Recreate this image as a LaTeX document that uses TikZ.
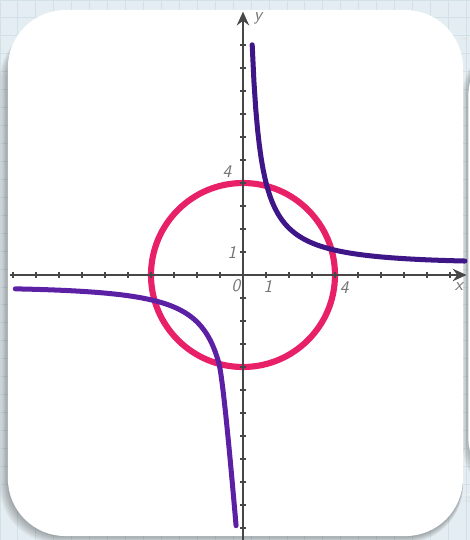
\documentclass[tikz,border=0pt]{standalone}
\usetikzlibrary{arrows.meta}
\definecolor{ringpink}{RGB}{232,32,104}
\definecolor{hypup}{RGB}{62,22,135}
\definecolor{hyplow}{RGB}{92,32,165}
\definecolor{paper}{RGB}{228,237,241}
\definecolor{paperline}{RGB}{210,224,231}
\begin{document}
\begin{tikzpicture}[x=0.5cm,y=0.5cm,
  axis/.style={draw=black!72, line width=1.1pt},
  tick/.style={draw=black!72, line width=1pt},
  lbl/.style={text=black!55, font=\sffamily\slshape\fontsize{11}{11}\selectfont, inner sep=0pt},
  ring/.style={draw=ringpink, line width=3.8pt},
  branch/.style={line width=3.1pt, line cap=round},
  card/.style={fill=white, rounded corners=1.25cm}]
\useasboundingbox (-10.565,-11.522) rectangle (9.870,11.957);
\clip (-10.565,-11.522) rectangle (9.870,11.957);
% grid paper
\fill[paper] (-10.565,-11.522) rectangle (9.870,11.957);
\foreach \i in {0,...,27} {
  \draw[paperline, line width=0.6pt] (-10.565+0.78*\i,-11.522) -- ++(0,23.5);
  \draw[paperline, line width=0.6pt] (-10.565,11.957-0.78*\i) -- ++(20.5,0);
}
% shadows
\foreach \s in {1,...,6} {
  \fill[black, opacity=0.05, rounded corners=1.25cm] (-10.22-0.06*\s,-11.35-0.05*\s) rectangle (9.565,11.52-0.6);
}
\foreach \s in {1,...,5} {
  \fill[black, opacity=0.05, rounded corners=1.25cm] (9.80-0.05*\s,-9.57-0.06*\s) rectangle (12,10.3);
}
% partial card on the right
\fill[card] (9.80,-9.57) rectangle (12,10.3);
% main card
\fill[card] (-10.22,-11.35) rectangle (9.565,11.52);
% circle
\draw[ring] (0,0) circle (4);
% hyperbola branches
\draw[branch, draw=hypup] plot[domain=0.4:9.65, samples=120, variable=\t] (\t, {4/\t+0.02*\t});
\draw[branch, draw=hyplow] plot[domain=-9.9:-1.05, samples=120, variable=\t] (\t, {4/\t+0.02*\t})
  .. controls (-0.85,-4.55) and (-0.45,-9.2) .. (-0.3,-10.9);
% axes
\coordinate (xs) at (-10.13,0);
\coordinate (xe) at (9.72,0);
\coordinate (ys) at (0,-11.6);
\coordinate (ye) at (0,11.45);
\draw[axis, -{Stealth[length=0.3cm,width=0.27cm,inset=0.1cm]}] (xs) -- (xe);
\draw[axis, -{Stealth[length=0.3cm,width=0.27cm,inset=0.1cm]}] (ys) -- (ye);
\foreach \k in {-10,...,-1,1,2,...,9} \draw[tick] (\k,-0.13) -- (\k,0.13);
\foreach \k in {-11,...,-1,1,2,...,10} \draw[tick] (-0.13,\k) -- (0.13,\k);
% labels
\node[lbl] (ly) at (0.66,11.15) {y};
\node[lbl] (lx) at (9.39,-0.50) {x};
\node[lbl] (l0) at (-0.30,-0.45) {0};
\node[lbl] (lx1) at (1.09,-0.50) {1};
\node[lbl] (lx4) at (4.40,-0.56) {4};
\node[lbl] (ly1) at (-0.48,0.96) {1};
\node[lbl] (ly4) at (-0.70,4.48) {4};
\end{tikzpicture}
\end{document}
